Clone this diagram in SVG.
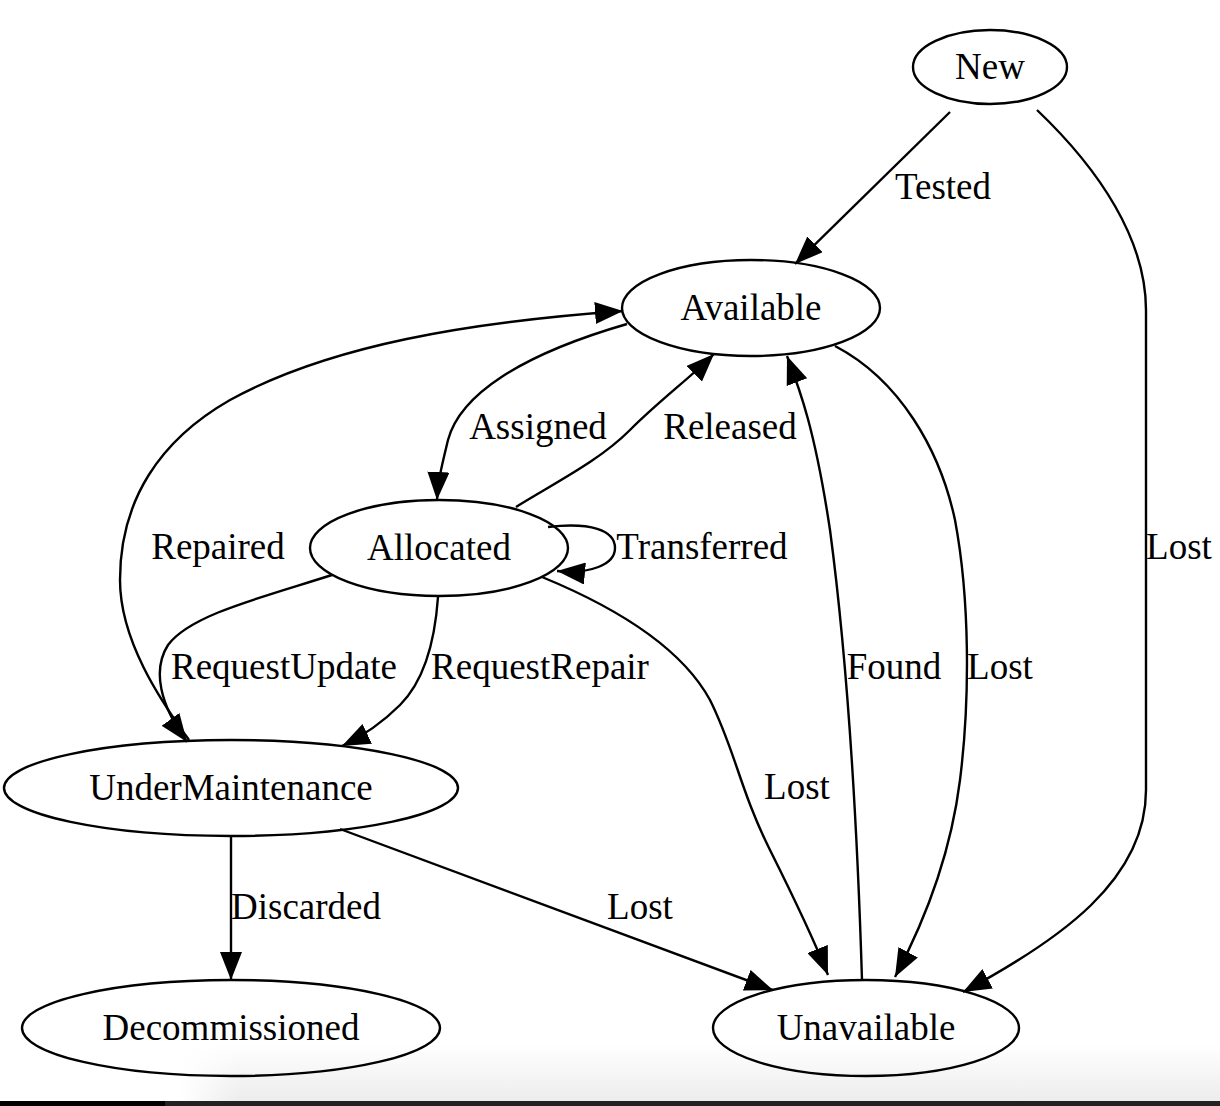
<svg xmlns="http://www.w3.org/2000/svg" width="1220" height="1106" viewBox="0 0 1220 1106">
<defs>
<style>
.node ellipse{fill:none;stroke:#000;stroke-width:2.4}
.node text,.lbl{font-family:"Liberation Serif","Times New Roman",serif;font-size:37px;fill:#000}
.node text{text-anchor:middle}
.edge path.e{fill:none;stroke:#000;stroke-width:2.4}
.lbl{text-anchor:middle}
</style>
<marker id="ah" viewBox="0 0 28 22" refX="28" refY="11" markerWidth="28" markerHeight="22" markerUnits="userSpaceOnUse" orient="auto">
<path d="M0,0 L28,11 L0,22 z" fill="#000"/>
</marker>
<linearGradient id="sh" x1="0" y1="0" x2="0" y2="1">
<stop offset="0" stop-color="#fff"/>
<stop offset="1" stop-color="#ececec"/>
</linearGradient>
<linearGradient id="shx" x1="0" y1="0" x2="1" y2="0">
<stop offset="0" stop-color="#fff" stop-opacity="1"/>
<stop offset="1" stop-color="#fff" stop-opacity="0"/>
</linearGradient>
</defs>
<rect x="0" y="0" width="1220" height="1106" fill="#fff"/>
<rect x="0" y="1045" width="1220" height="57" fill="url(#sh)"/>
<rect x="0" y="1045" width="180" height="57" fill="#fff"/>
<rect x="180" y="1045" width="60" height="57" fill="url(#shx)"/>
<rect x="0" y="1101" width="1220" height="5" fill="#222"/>
<rect x="0" y="1101" width="165" height="5" fill="#000"/>

<g id="edges" class="edge">
<path class="e" marker-end="url(#ah)" d="M950,112 L795,264"/>
<path class="e" marker-end="url(#ah)" d="M1037,110 C1100,170 1146,240 1146,310 L1146,790 C1146,880 1060,940 963,992"/>
<path class="e" marker-end="url(#ah)" d="M627,324 C520,355 460,395 448,440 C442,465 438,480 437,500"/>
<path class="e" marker-end="url(#ah)" d="M516,507 C560,480 600,460 630,430 C660,400 690,378 714,354"/>
<path class="e" marker-end="url(#ah)" d="M548,527 C590,522 615,530 615,548 C615,565 590,574 557,571"/>
<path class="e" marker-end="url(#ah)" d="M332,575 C260,598 190,615 168,645 C152,670 160,705 187,742"/>
<path class="e" marker-end="url(#ah)" d="M438,597 C435,640 425,680 400,705 C385,720 365,735 342,746"/>
<path class="e" marker-end="url(#ah)" d="M189,740 C160,700 120,640 120,580 C120,500 160,440 230,400 C330,345 470,322 623,311"/>
<path class="e" marker-end="url(#ah)" d="M542,577 C610,605 680,645 710,700 C735,750 740,790 770,850 C790,890 810,930 828,975"/>
<path class="e" marker-end="url(#ah)" d="M862,980 C858,850 850,680 830,530 C815,430 800,390 787,356"/>
<path class="e" marker-end="url(#ah)" d="M835,346 C900,380 940,450 955,520 C970,600 970,700 960,780 C950,860 920,930 895,977"/>
<path class="e" marker-end="url(#ah)" d="M231,836 L231,980"/>
<path class="e" marker-end="url(#ah)" d="M340,829 L773,990"/>
<text class="lbl" x="943" y="199">Tested</text>
<text class="lbl" x="1179" y="559">Lost</text>
<text class="lbl" x="538" y="439">Assigned</text>
<text class="lbl" x="730" y="439">Released</text>
<text class="lbl" x="702" y="559">Transferred</text>
<text class="lbl" x="218" y="559">Repaired</text>
<text class="lbl" x="284" y="679">RequestUpdate</text>
<text class="lbl" x="540" y="679">RequestRepair</text>
<text class="lbl" x="797" y="799">Lost</text>
<text class="lbl" x="894" y="679">Found</text>
<text class="lbl" x="1000" y="679">Lost</text>
<text class="lbl" x="306" y="919">Discarded</text>
<text class="lbl" x="640" y="919">Lost</text>
</g>

<g id="New" class="node"><ellipse cx="990" cy="67" rx="77" ry="37"/><text x="990" y="79">New</text></g>
<g id="Available" class="node"><ellipse cx="751" cy="308" rx="129" ry="48"/><text x="751" y="320">Available</text></g>
<g id="Allocated" class="node"><ellipse cx="439" cy="548" rx="129" ry="48"/><text x="439" y="560">Allocated</text></g>
<g id="UnderMaintenance" class="node"><ellipse cx="231" cy="788" rx="227" ry="48"/><text x="231" y="800">UnderMaintenance</text></g>
<g id="Decommissioned" class="node"><ellipse cx="231" cy="1028" rx="209" ry="48"/><text x="231" y="1040">Decommissioned</text></g>
<g id="Unavailable" class="node"><ellipse cx="866" cy="1028" rx="153" ry="48"/><text x="866" y="1040">Unavailable</text></g>
</svg>
